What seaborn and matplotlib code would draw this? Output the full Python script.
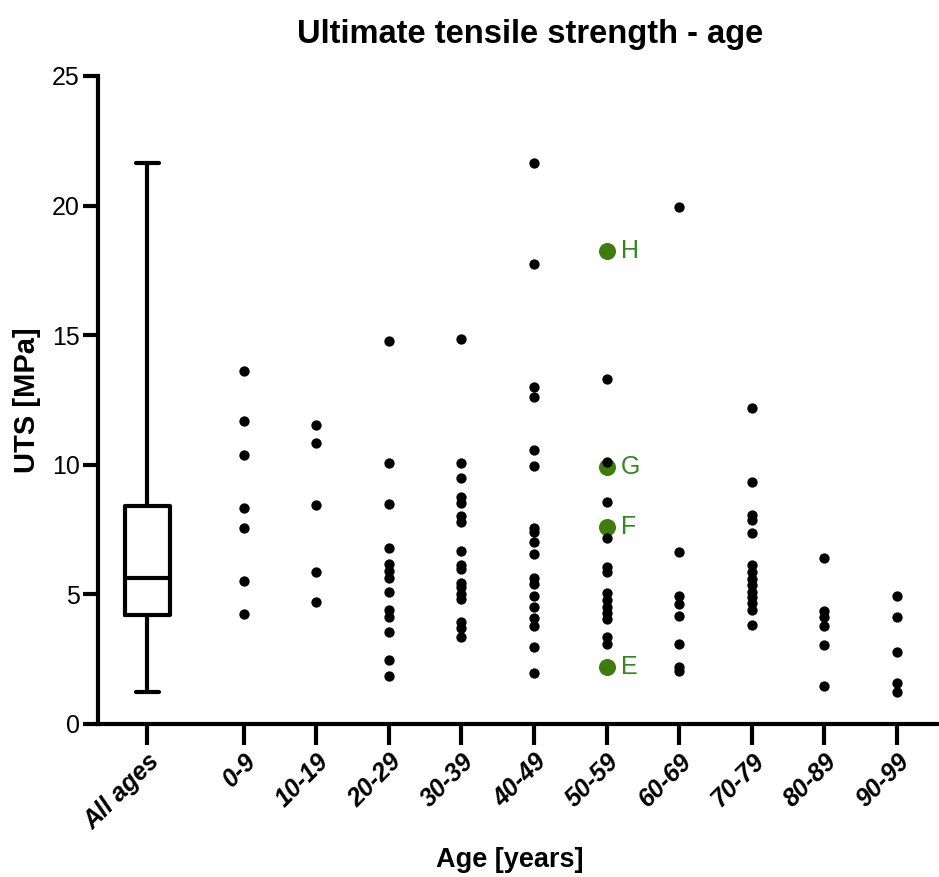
import numpy as np
import pandas as pd
import matplotlib
matplotlib.use('Agg')
import matplotlib.pyplot as plt
import seaborn as sns

# UTS [MPa] per age group
groups = ['0-9', '10-19', '20-29', '30-39', '40-49', '50-59', '60-69', '70-79', '80-89', '90-99']
uts_0_9 = [13.62, 11.69, 10.38, 8.33, 7.56, 5.52, 4.24]
uts_10_19 = [11.53, 10.84, 8.46, 5.85, 4.70]
uts_20_29 = [14.79, 10.06, 8.48, 6.80, 6.17, 5.90, 5.62, 5.08, 4.40, 4.12, 3.55, 2.47, 1.86]
uts_30_39 = [14.86, 10.08, 9.50, 8.77, 8.51, 8.02, 7.81, 6.67, 6.13, 5.97, 5.45, 5.30, 5.02, 4.81,
             3.95, 3.69, 3.37]
uts_40_49 = [21.63, 17.74, 13.01, 12.63, 10.57, 9.97, 7.55, 7.40, 7.03, 6.55, 5.62, 5.40, 4.94,
             4.53, 4.08, 3.79, 2.96, 1.98]
uts_50_59 = [13.30, 10.10, 8.55, 7.16, 6.04, 5.88, 5.04, 4.78, 4.53, 4.27, 4.04, 3.37, 3.09]
uts_60_69 = [19.93, 6.62, 4.94, 4.62, 4.18, 3.07, 2.21, 2.06]
uts_70_79 = [12.19, 9.32, 8.06, 7.87, 7.36, 6.12, 5.85, 5.60, 5.35, 5.10, 4.90, 4.65, 4.40, 3.82]
uts_80_89 = [6.42, 4.37, 4.12, 3.79, 3.05, 1.48]
uts_90_99 = [4.95, 4.12, 2.79, 1.57, 1.22]

# highlighted specimens (all in 50-59)
hl_group = '50-59'
hl_labels = ['E', 'F', 'G', 'H']
hl_values = [2.21, 7.61, 9.93, 18.26]

all_groups = [uts_0_9, uts_10_19, uts_20_29, uts_30_39, uts_40_49,
              uts_50_59, uts_60_69, uts_70_79, uts_80_89, uts_90_99]

gap = 1.33
pos = {g: gap + i for i, g in enumerate(groups)}

df = pd.concat([pd.DataFrame({'group': g, 'UTS': v}) for g, v in zip(groups, all_groups)],
               ignore_index=True)
df['x'] = df['group'].map(pos)
df_hl = pd.DataFrame({'label': hl_labels, 'UTS': hl_values})
df_hl['x'] = pos[hl_group]

all_vals = np.concatenate([df['UTS'].values, df_hl['UTS'].values])
df_all = pd.DataFrame({'x': 0.0, 'UTS': all_vals})

sns.set_style('ticks')
plt.rcParams['font.family'] = ['Liberation Sans', 'DejaVu Sans']
plt.rcParams['text.color'] = 'black'
plt.rcParams['axes.labelcolor'] = 'black'
plt.rcParams['xtick.color'] = 'black'
plt.rcParams['ytick.color'] = 'black'

fig = plt.figure(figsize=(9.39, 8.77), dpi=100)
ax = fig.add_axes([0.1044, 0.1745, 0.8946, 0.7389])

sns.boxplot(data=df_all, x='x', y='UTS', native_scale=True, whis=(0, 100), width=0.63,
            fill=False, color='black', linewidth=3, ax=ax)

green = '#3e7c0b'
sns.scatterplot(data=df_hl, x='x', y='UTS', color=green, s=150, linewidth=0, zorder=3, ax=ax)
for lab, v in zip(hl_labels, hl_values):
    ax.text(pos[hl_group] + 0.2, v, lab, color='#2f8a1a', fontsize=18, va='center', ha='left')

sns.scatterplot(data=df, x='x', y='UTS', color='black', s=55, linewidth=0, zorder=4, ax=ax)

ax.set_xlim(-0.68, 10.9)
ax.set_ylim(0, 25)
ax.set_yticks([0, 5, 10, 15, 20, 25])
ax.set_xticks([0] + [pos[g] for g in groups])
ax.set_xticklabels(['All ages'] + groups, rotation=45, ha='right', rotation_mode='anchor',
                   fontweight='bold', fontstyle='italic', fontsize=18)
ax.tick_params(axis='x', direction='out', length=15, width=3, pad=3)
ax.tick_params(axis='y', direction='out', length=11, width=3, labelsize=18, pad=2)

for side in ['top', 'right']:
    ax.spines[side].set_visible(False)
for side in ['left', 'bottom']:
    ax.spines[side].set_linewidth(3)
    ax.spines[side].set_color('black')

ax.set_xlabel('Age [years]', fontsize=19.5, fontweight='bold')
ax.xaxis.set_label_coords(0.49, -0.19)
ax.set_ylabel('UTS [MPa]', fontsize=21, fontweight='bold', labelpad=8)
ax.set_title('Ultimate tensile strength - age', fontsize=23.5, fontweight='bold', pad=24, x=0.514)

fig.savefig('out.png', dpi=100)
